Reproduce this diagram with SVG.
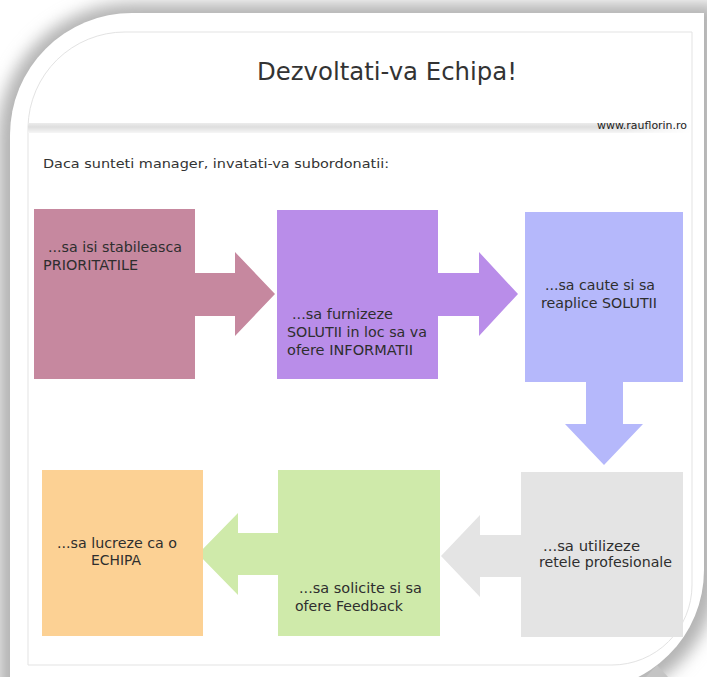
<svg xmlns="http://www.w3.org/2000/svg" width="707" height="677" viewBox="0 0 707 677">
  <defs>
    <filter id="blur" x="-20%" y="-20%" width="140%" height="140%">
      <feGaussianBlur stdDeviation="8"/>
    </filter>
    <linearGradient id="band" x1="0" y1="0" x2="0" y2="1">
      <stop offset="0" stop-color="#ececec"/>
      <stop offset="0.4" stop-color="#dedede"/>
      <stop offset="1" stop-color="#f6f6f6"/>
    </linearGradient>
    <linearGradient id="bandfade" x1="0" y1="0" x2="1" y2="0">
      <stop offset="0" stop-color="#fff" stop-opacity="1"/>
      <stop offset="0.9" stop-color="#fff" stop-opacity="1"/>
      <stop offset="1" stop-color="#fff" stop-opacity="0"/>
    </linearGradient>
    <mask id="bandmask">
      <rect x="28" y="120" width="664" height="16" fill="url(#bandfade)"/>
    </mask>
  </defs>
  <style>
    .box text { font-family: "DejaVu Sans", "Liberation Sans", sans-serif; font-size: 13.5px; fill: #2e2e2e; }
    .title { font-family: "DejaVu Sans", sans-serif; font-size: 24px; fill: #333; }
    .sub { font-family: "DejaVu Sans", sans-serif; font-size: 13px; fill: #333; }
    .url { font-family: "DejaVu Sans", sans-serif; font-size: 11px; fill: #222; }
  </style>

  <rect x="0" y="0" width="707" height="677" fill="#fff"/>

  <!-- frame shadow -->
  <path d="M-2,137 A134 134 0 0 1 132,3 H718 V570 A132 132 0 0 1 586,702 H-2 Z" fill="#b4b4b4" filter="url(#blur)"/>
  <polygon points="646,677 657,665 668,677" fill="#c4c4c4"/>
  <!-- card -->
  <path d="M10,135 A122 122 0 0 1 132,13 H704 V570 A120 120 0 0 1 584,690 H10 Z" fill="#fff"/>
  <!-- inner page -->
  <path d="M28,127 A97 97 0 0 1 125,32 H692 V585 A80 80 0 0 1 612,665 H28 Z" fill="#fff" stroke="#e3e3e3" stroke-width="1"/>
  <rect x="28" y="123" width="664" height="10" fill="url(#band)" mask="url(#bandmask)"/>

  <text class="title" x="257" y="80" textLength="260" lengthAdjust="spacingAndGlyphs">Dezvoltati-va Echipa!</text>
  <text class="url" x="597" y="129" textLength="90" lengthAdjust="spacingAndGlyphs">www.rauflorin.ro</text>
  <text class="sub" x="43" y="168" textLength="346" lengthAdjust="spacingAndGlyphs">Daca sunteti manager, invatati-va subordonatii:</text>

  <g id="connectors">
    <polygon points="194,273 235,273 235,252 275,294 235,336 235,316 194,316" fill="#c6889f"/>
    <polygon points="437,273 479,273 479,252 518,294 479,336 479,316 437,316" fill="#b98de9"/>
    <polygon points="586,381 623,381 623,424 643,424 604,465 565,424 586,424" fill="#b5b8fb"/>
    <polygon points="522,535 480,535 480,515 441,556 480,597 480,577 522,577" fill="#e4e4e4"/>
    <polygon points="279,533 238,533 238,513 198,554 238,595 238,575 279,575" fill="#cfeaaa"/>
  </g>

  <g id="node1" class="box">
    <rect x="34" y="209" width="161" height="170" fill="#c6889f"/>
    <text x="48" y="252" textLength="134" lengthAdjust="spacingAndGlyphs">...sa isi stabileasca</text>
    <text x="43" y="270" textLength="95" lengthAdjust="spacingAndGlyphs">PRIORITATILE</text>
  </g>
  <g id="node2" class="box">
    <rect x="277" y="210" width="161" height="169" fill="#b98de9"/>
    <text x="292" y="319" textLength="101" lengthAdjust="spacingAndGlyphs">...sa furnizeze</text>
    <text x="287" y="337" textLength="140" lengthAdjust="spacingAndGlyphs">SOLUTII in loc sa va</text>
    <text x="287" y="355" textLength="126" lengthAdjust="spacingAndGlyphs">ofere INFORMATII</text>
  </g>
  <g id="node3" class="box">
    <rect x="525" y="212" width="158" height="170" fill="#b5b8fb"/>
    <text x="545" y="290" textLength="110" lengthAdjust="spacingAndGlyphs">...sa caute si sa</text>
    <text x="541" y="308" textLength="116" lengthAdjust="spacingAndGlyphs">reaplice SOLUTII</text>
  </g>
  <g id="node4" class="box">
    <rect x="521" y="472" width="162" height="165" fill="#e4e4e4"/>
    <text x="543" y="551" textLength="97" lengthAdjust="spacingAndGlyphs">...sa utilizeze</text>
    <text x="539" y="567" textLength="133" lengthAdjust="spacingAndGlyphs">retele profesionale</text>
  </g>
  <g id="node5" class="box">
    <rect x="278" y="470" width="162" height="166" fill="#cfeaaa"/>
    <text x="299" y="593" textLength="123" lengthAdjust="spacingAndGlyphs">...sa solicite si sa</text>
    <text x="295" y="611" textLength="108" lengthAdjust="spacingAndGlyphs">ofere Feedback</text>
  </g>
  <g id="node6" class="box">
    <rect x="42" y="470" width="161" height="166" fill="#fcd194"/>
    <text x="57" y="548" textLength="120" lengthAdjust="spacingAndGlyphs">...sa lucreze ca o</text>
    <text x="91" y="565" textLength="50" lengthAdjust="spacingAndGlyphs">ECHIPA</text>
  </g>
</svg>
